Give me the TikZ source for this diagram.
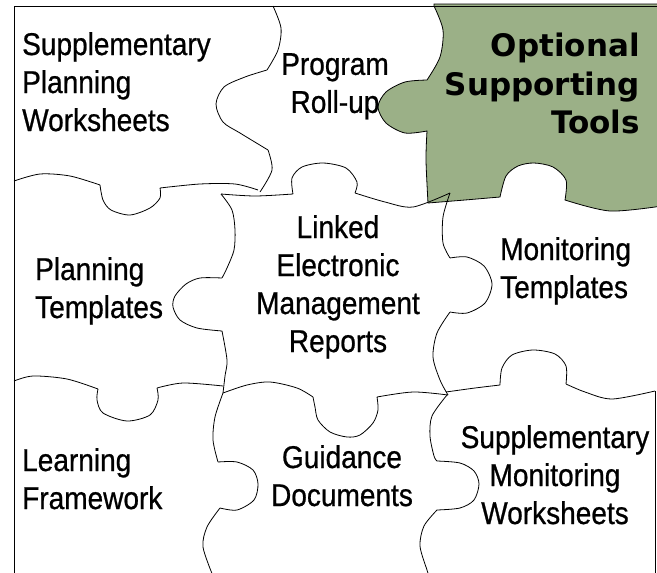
\documentclass[tikz,border=0pt]{standalone}
\usepackage{fontspec}
\setmainfont{Liberation Sans}[FakeStretch=0.89,FakeBold=0.7]
\newfontfamily\toolfont{DejaVu Sans}
\usepackage{xcolor}
\usepackage{tikz}
\definecolor{leafgreen}{RGB}{155,176,135}
\newcommand{\piecefont}{\fontsize{31.5}{38}\selectfont}

\begin{document}
\begin{tikzpicture}[
  x=1pt,y=-1pt,
  seam/.style={draw=black,line width=0.8pt,line join=round},
  leaf/.style={fill=leafgreen,draw=black,line width=0.8pt},
  piece/.style={inner sep=0pt,font=\piecefont},
  tool/.style={inner sep=0pt,font=\toolfont\bfseries\fontsize{31}{38.5}\selectfont,align=right}
]
\useasboundingbox (0,0) rectangle (657,573);
% green piece
\path[leaf] (434,4)
  -- plot[smooth] coordinates {(434,6) (443,30) (440,57) (427,80)}
  -- plot[smooth] coordinates {(427,80) (405,82) (386,92) (378,107) (386,123) (405,133) (427,131)}
  -- plot[smooth] coordinates {(427,131) (426,160) (428,203)}
  -- plot[smooth] coordinates {(428,203) (465,200) (500,197)}
  -- plot[smooth] coordinates {(500,197) (506,176) (518,166) (534,163) (553,167) (566,180) (565,200)}
  -- plot[smooth] coordinates {(565,200) (610,211) (662,206)}
  -- (662,4) -- cycle;
% frame
\draw[seam] (14,575) -- (14,6) -- (660,6);
\draw[seam] (655,391) -- (655,575);
% seams between pieces
\draw[seam] plot[smooth] coordinates {(273,6) (281,28) (278,50) (267,70)}
  plot[smooth] coordinates {(267,70) (245,77) (224,87) (216,104) (223,122) (240,133) (268,150)}
  plot[smooth] coordinates {(268,150) (272,170) (260,192)};
\draw[seam] plot[smooth] coordinates {(14,181) (40,174) (70,176) (100,185)}
  plot[smooth] coordinates {(100,185) (103,200) (111,210) (130,215) (150,208) (160,198) (160,188)}
  plot[smooth] coordinates {(160,188) (200,184) (235,184) (258,190)};
\draw[seam] plot[smooth] coordinates {(221,194) (255,196) (293,194)}
  plot[smooth] coordinates {(293,194) (292,178) (302,167) (323,163) (346,168) (357,182) (355,193)}
  plot[smooth] coordinates {(355,193) (385,202) (413,207) (450,193)};
\draw[seam] plot[smooth] coordinates {(450,193) (443,217) (443,243) (450,258)}
  plot[smooth] coordinates {(450,258) (467,257) (484,266) (492,284) (485,303) (467,313) (450,312)}
  plot[smooth] coordinates {(450,312) (437,333) (433,357) (440,380) (448,395)};
\draw[seam] plot[smooth] coordinates {(446,392) (475,388) (500,385)}
  plot[smooth] coordinates {(500,385) (502,368) (512,355) (533,350) (555,354) (566,366) (566,384)}
  plot[smooth] coordinates {(566,384) (585,392) (612,399) (655,391)};
\draw[seam] plot[smooth] coordinates {(448,395) (413,392) (377,397)}
  plot[smooth] coordinates {(377,397) (378,410) (373,423) (360,435) (347,437) (330,432) (318,420) (315,407) (313,397)}
  plot[smooth] coordinates {(313,397) (297,388) (270,382) (247,385) (223,393)};
\draw[seam] plot[smooth] coordinates {(221,194) (232,210) (235,230) (234,250) (227,268) (222,278)}
  plot[smooth] coordinates {(222,278) (200,278) (186,284) (175,296) (173,307) (180,320) (197,328) (222,331)}
  plot[smooth] coordinates {(222,331) (227,360) (225,376) (223,393)};
\draw[seam] plot[smooth] coordinates {(14,381) (33,376) (67,379) (98,389)}
  plot[smooth] coordinates {(98,389) (97,400) (103,413) (127,421) (150,415) (158,400) (157,388)}
  plot[smooth] coordinates {(157,388) (183,383) (223,386)};
\draw[seam] plot[smooth] coordinates {(223,393) (215,417) (213,440) (218,462)}
  plot[smooth] coordinates {(218,462) (237,462) (253,470) (258,484) (254,500) (237,510) (220,508)}
  plot[smooth] coordinates {(220,508) (207,527) (203,547) (213,576)};
\draw[seam] plot[smooth] coordinates {(447,395) (432,416) (430,436) (434,456) (437,461)}
  plot[smooth] coordinates {(437,461) (460,463) (474,471) (479,484) (474,500) (460,508) (437,510)}
  plot[smooth] coordinates {(437,510) (424,526) (420,546) (427,570) (429,576)};
% labels
\node[piece,anchor=north west,align=left] (spw) at (22,32) {Supplementary\\Planning\\Worksheets};
\node[piece,anchor=north,align=center] (rollup) at (335,53) {Program\\Roll-up};
\node[tool,anchor=north east] (optional) at (640,33) {Optional\\Supporting\\Tools};
\node[piece,anchor=north,align=center] (linked) at (338,215) {Linked\\Electronic\\Management\\Reports};
\node[piece,anchor=north west,align=left] (plantemp) at (35,257) {Planning\\Templates};
\node[piece,anchor=north west,align=left] (montemp) at (500,237) {Monitoring\\Templates};
\node[piece,anchor=north west,align=left] (learning) at (22,448) {Learning\\Framework};
\node[piece,anchor=north,align=center] (guidance) at (342,445) {Guidance\\Documents};
\node[piece,anchor=north,align=center] (suppmon) at (555,425) {Supplementary\\Monitoring\\Worksheets};
\end{tikzpicture}
\end{document}
